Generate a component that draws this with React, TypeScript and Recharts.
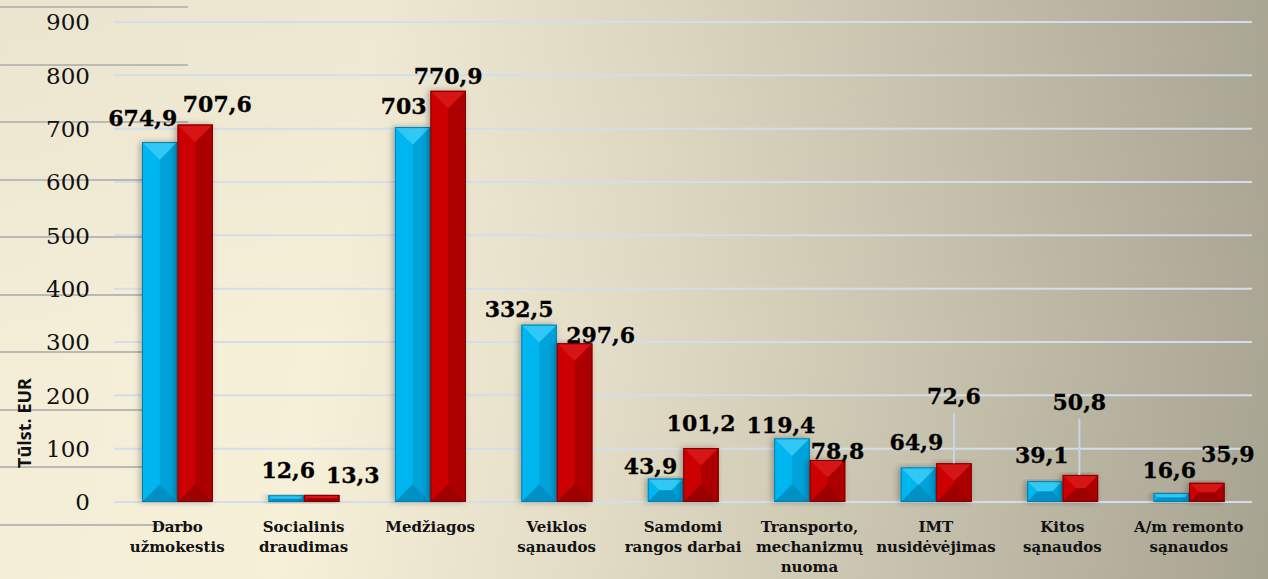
import React from 'react';
import { BarChart, Bar, XAxis, YAxis, CartesianGrid, LabelList } from 'recharts';

const categories = [
  'Darbo\nužmokestis',
  'Socialinis\ndraudimas',
  'Medžiagos',
  'Veiklos\nsąnaudos',
  'Samdomi\nrangos darbai',
  'Transporto,\nmechanizmų\nnuoma',
  'IMT\nnusidėvėjimas',
  'Kitos\nsąnaudos',
  'A/m remonto\nsąnaudos',
];
const blueValues = [674.9, 12.6, 703, 332.5, 43.9, 119.4, 64.9, 39.1, 16.6];
const redValues = [707.6, 13.3, 770.9, 297.6, 101.2, 78.8, 72.6, 50.8, 35.9];
const yTicks = [0, 100, 200, 300, 400, 500, 600, 700, 800, 900];
const yAxisTitle = 'Tūlst. EUR';

// label placement offsets (dx from bar centre, dy of text centre from bar top)
const blueLabelOffsets = [[-17, -24], [2, -25], [-9, -21], [-20, -16], [-15, -13], [-11, -13], [-2, -25], [-3, -26], [-2, -23]];
const redLabelOffsets = [[22, -21], [31, -20], [0, -15], [26, -8], [0, -25], [10, -9], [0, -67], [-1, -73], [21, -29]];
const redLeaderLines = [false, false, false, false, false, false, true, true, false];

const data = categories.map((c, i) => ({ name: c, blue: blueValues[i], red: redValues[i] }));

const SERIF = '"DejaVu Serif", serif';

const fmt = (v: number) => String(v).replace('.', ',');

const makeBevel = (cols: { base: string; light: string; right: string; bottom: string; edge: string }) => (props: any) => {
  const { x, y, width: w, height: h } = props;
  if (!w || !h || h <= 0) return null;
  const b = Math.min(w / 2, h / 2);
  const p = (pts: number[][]) => pts.map((q) => q.join(',')).join(' ');
  return (
    <g filter="url(#barShadow)">
      <rect x={x} y={y} width={w} height={h} fill={cols.base} />
      <polygon points={p([[x + w, y], [x + w, y + h], [x + w - b, y + h - b], [x + w - b, y + b]])} fill={cols.right} />
      <polygon points={p([[x, y], [x + w, y], [x + w - b, y + b], [x + b, y + b]])} fill={cols.light} />
      <polygon points={p([[x, y + h], [x + w, y + h], [x + w - b, y + h - b], [x + b, y + h - b]])} fill={cols.bottom} />
      <rect x={x + 0.5} y={y + 0.5} width={w - 1} height={h - 1} fill="none" stroke={cols.edge} strokeWidth={1} />
    </g>
  );
};

const BlueBar = makeBevel({ base: '#00B6F0', light: '#30C8F6', right: '#00A2DA', bottom: '#0090C4', edge: '#0080B0' });
const RedBar = makeBevel({ base: '#CC0000', light: '#D61212', right: '#AC0000', bottom: '#9C0000', edge: '#7E0000' });

const makeLabel = (offsets: number[][], leaders?: boolean[]) => (props: any) => {
  const { x, y, width, index, value } = props;
  const cx = x + width / 2;
  const [dx, dy] = offsets[index];
  const ty = y + dy;
  return (
    <g>
      {leaders && leaders[index] ? (
        <line x1={cx + dx} x2={cx + dx} y1={ty + 17} y2={y} stroke="#C5D6EA" strokeWidth={2} />
      ) : null}
      <text
        x={cx + dx}
        y={ty}
        dy="0.36em"
        textAnchor="middle"
        fontFamily={SERIF}
        fontWeight="bold"
        fontSize={22}
        fill="#000"
        stroke="#000"
        strokeWidth={0.3}
      >
        {fmt(value)}
      </text>
    </g>
  );
};

const XTick = (props: any) => {
  const { x, y, payload } = props;
  const lines = String(payload.value).split('\n');
  return (
    <text x={x} y={y} textAnchor="middle" fontFamily={SERIF} fontWeight="bold" fontSize={15} fill="#111">
      {lines.map((l, i) => (
        <tspan key={i} x={x} dy={i === 0 ? 22 : 20}>
          {l}
        </tspan>
      ))}
    </text>
  );
};

const YTick = (props: any) => {
  const { x, y, payload } = props;
  return (
    <text x={x} y={y} dy="0.36em" textAnchor="end" fontFamily={SERIF} fontSize={23} fill="#111">
      {payload.value}
    </text>
  );
};

export default function App() {
  return (
    <div
      style={{
        position: 'absolute',
        left: 0,
        top: 0,
        width: 1268,
        height: 579,
        overflow: 'hidden',
        background:
          'linear-gradient(to bottom, rgba(0,0,0,0.035), rgba(0,0,0,0) 60%), linear-gradient(100deg, #F3EDD7 0%, #F6F0D9 28%, #E2DCC6 50%, #C8C3AE 72%, #A7A391 100%)',
      }}
    >
      <div
        style={{
          position: 'absolute',
          left: 0,
          top: 6,
          width: 188,
          height: 530,
          background: 'repeating-linear-gradient(to bottom, #B9B9B6 0px, #B9B9B6 2px, transparent 2px, transparent 57.5px)',
        }}
      />
      <svg width={1268} height={579} style={{ position: 'absolute', left: 0, top: 0 }}>
        <defs>
          <filter id="barShadow" x="-40%" y="-10%" width="180%" height="130%">
            <feDropShadow dx={-2} dy={0} stdDeviation={3} floodColor="#000" floodOpacity={0.3} />
          </filter>
        </defs>
        <text
          transform="translate(31,423) rotate(-90)"
          textAnchor="middle"
          fontFamily='"Open Sans", sans-serif'
          fontWeight="bold"
          fontSize={18}
          fill="#111"
        >
          {yAxisTitle}
        </text>
      </svg>
      <div style={{ position: 'absolute', left: 0, top: 0 }}>
        <BarChart
          width={1268}
          height={579}
          data={data}
          margin={{ top: 22, right: 16, bottom: 7, left: 0 }}
          barGap={0}
        >
          <CartesianGrid vertical={false} stroke="#D3DEEA" strokeWidth={2} />
          <XAxis dataKey="name" axisLine={false} tickLine={false} interval={0} height={70} tick={<XTick />} />
          <YAxis
            domain={[0, 900]}
            ticks={yTicks}
            axisLine={false}
            tickLine={false}
            width={114}
            tickMargin={18}
            tick={<YTick />}
          />
          <Bar dataKey="blue" barSize={35.5} shape={BlueBar} isAnimationActive={false}>
            <LabelList dataKey="blue" content={makeLabel(blueLabelOffsets)} />
          </Bar>
          <Bar dataKey="red" barSize={35.5} shape={RedBar} isAnimationActive={false}>
            <LabelList dataKey="red" content={makeLabel(redLabelOffsets, redLeaderLines)} />
          </Bar>
        </BarChart>
      </div>
    </div>
  );
}
